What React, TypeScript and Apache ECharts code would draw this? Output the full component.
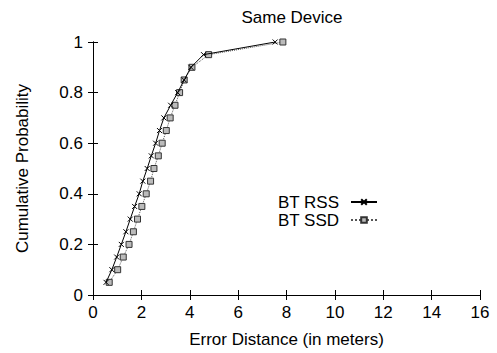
import React, { useEffect, useRef } from "react";
import * as echarts from "echarts";

const probLevels = [0.05, 0.1, 0.15, 0.2, 0.25, 0.3, 0.35, 0.4, 0.45, 0.5, 0.55, 0.6, 0.65, 0.7, 0.75, 0.8, 0.85, 0.9, 0.95, 1.0];
const rssDist = [0.54, 0.78, 0.98, 1.17, 1.36, 1.54, 1.72, 1.91, 2.06, 2.24, 2.41, 2.59, 2.75, 2.93, 3.21, 3.5, 3.77, 4.05, 4.57, 7.53];
const ssdDist = [0.67, 1.02, 1.25, 1.49, 1.67, 1.84, 2.02, 2.2, 2.38, 2.52, 2.7, 2.86, 3.03, 3.19, 3.39, 3.58, 3.77, 4.09, 4.78, 7.85];
const xTicks = { min: 0, max: 16, interval: 2 };
const yTicks = { min: 0, max: 1, interval: 0.2 };

const FONT = "Liberation Sans, Arial, Helvetica, sans-serif";

export default function App() {
  const ref = useRef<HTMLDivElement>(null);
  useEffect(() => {
    if (!ref.current) return;
    const chart = echarts.init(ref.current, undefined, { renderer: "svg" });
    const axisLine = { show: true, lineStyle: { color: "#000", width: 1 } };
    const tick = { show: true, inside: true, length: 5, lineStyle: { color: "#000" } };
    const labelStyle = { color: "#000", fontSize: 17, fontFamily: FONT };
    chart.setOption({
      animation: false,
      backgroundColor: "#fff",
      title: {
        text: "Same Device",
        left: 287,
        textAlign: "center",
        top: 4,
        textStyle: { color: "#000", fontSize: 17, fontWeight: "normal", fontFamily: FONT },
      },
      grid: { left: 93, right: 17, top: 42, bottom: 57, containLabel: false },
      legend: {
        orient: "vertical",
        right: 119,
        top: 193,
        padding: 0,
        align: "right",
        itemGap: 0,
        itemWidth: 26,
        itemHeight: 7,
        textStyle: { color: "#000", fontSize: 17, fontFamily: FONT, lineHeight: 18, padding: [0, 7, 0, 0] },
        data: ["BT RSS", "BT SSD"],
      },
      xAxis: [
        {
          type: "value",
          position: "bottom",
          min: xTicks.min,
          max: xTicks.max,
          interval: xTicks.interval,
          name: "Error Distance (in meters)",
          nameLocation: "middle",
          nameGap: 36,
          nameTextStyle: { ...labelStyle },
          axisLine,
          axisTick: tick,
          axisLabel: { ...labelStyle, margin: 9 },
          splitLine: { show: false },
        },
        {
          type: "value",
          position: "top",
          min: xTicks.min,
          max: xTicks.max,
          interval: xTicks.interval,
          axisLine,
          axisTick: tick,
          axisLabel: { show: false },
          splitLine: { show: false },
        },
      ],
      yAxis: [
        {
          type: "value",
          position: "left",
          min: yTicks.min,
          max: yTicks.max,
          interval: yTicks.interval,
          name: "Cumulative Probability",
          nameLocation: "middle",
          nameGap: 62,
          nameTextStyle: { ...labelStyle },
          axisLine,
          axisTick: tick,
          axisLabel: { ...labelStyle, margin: 10, formatter: (v: number) => String(Math.round(v * 10) / 10) },
          splitLine: { show: false },
        },
        {
          type: "value",
          position: "right",
          min: yTicks.min,
          max: yTicks.max,
          interval: yTicks.interval,
          axisLine,
          axisTick: tick,
          axisLabel: { show: false },
          splitLine: { show: false },
        },
      ],
      series: [
        {
          name: "BT RSS",
          type: "line",
          xAxisIndex: 0,
          yAxisIndex: 0,
          data: rssDist.map((x, i) => [x, probLevels[i]]),
          symbol: "path://M0 0L10 10M10 0L0 10",
          symbolSize: 5,
          lineStyle: { color: "#000", width: 1, type: "solid" },
          itemStyle: { color: "#000", borderColor: "#000", borderWidth: 1 },
          z: 3,
        },
        {
          name: "BT SSD",
          type: "line",
          xAxisIndex: 0,
          yAxisIndex: 0,
          data: ssdDist.map((x, i) => [x, probLevels[i]]),
          symbol: "rect",
          symbolSize: 6,
          lineStyle: { color: "#555", width: 1, type: "dotted" },
          itemStyle: { color: "#bbb", borderColor: "#333", borderWidth: 1 },
          z: 2,
        },
      ],
    });
    return () => chart.dispose();
  }, []);
  return <div ref={ref} style={{ position: "fixed", left: 0, top: 0, width: 497, height: 353 }} />;
}
